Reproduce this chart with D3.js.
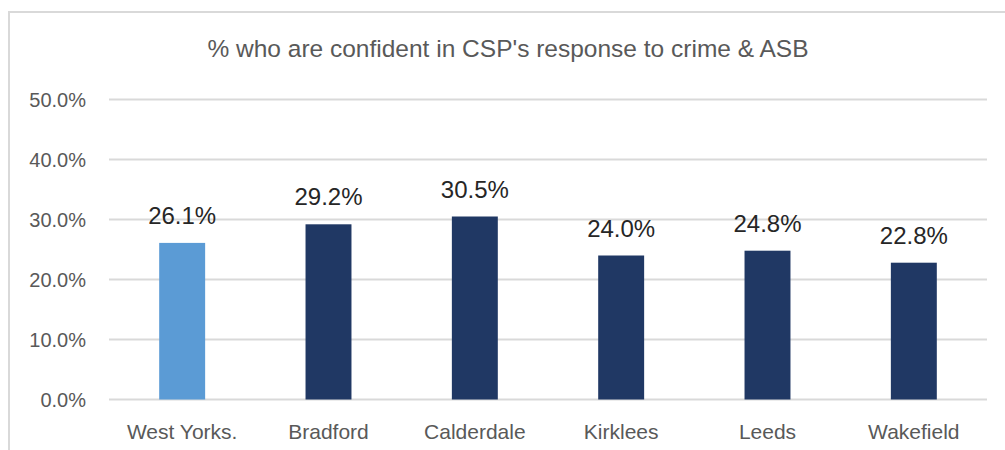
<!DOCTYPE html>
<html>
<head>
<meta charset="utf-8">
<script src="https://cdn.jsdelivr.net/npm/d3@7"></script>
<style>
    body { margin: 0; background: #fff; }
    text { font-family: 'Liberation Sans', Arial, sans-serif; }
</style>
</head>
<body>
<div id="graf"></div>
<script>
// Datos
const titulo = "% who are confident in CSP's response to crime & ASB"
const categorias = ['West Yorks.', 'Bradford', 'Calderdale', 'Kirklees', 'Leeds', 'Wakefield']
const valores = [0.261, 0.292, 0.305, 0.240, 0.248, 0.228]
const marcasY = [0, 0.1, 0.2, 0.3, 0.4, 0.5]

function load() {
    // Configuración de tamaños.
    const ancho = 1005
    const alto = 450
    const izq = 109
    const der = 987
    const arriba = 99.5
    const abajo = 399.5

    const svg = d3.select('#graf')
        .append('svg')
        .attr('width', ancho)
        .attr('height', alto)

    // Marco del gráfico
    svg.append('rect')
        .attr('x', 9)
        .attr('y', 12)
        .attr('width', 1020)
        .attr('height', 460)
        .attr('fill', 'none')
        .attr('stroke', '#d9d9d9')
        .attr('stroke-width', 2)

    // Título
    svg.append('text')
        .attr('x', 508)
        .attr('y', 57)
        .attr('text-anchor', 'middle')
        .attr('font-size', 24.5)
        .attr('fill', '#595959')
        .text(titulo)

    // Escalas
    const xScale = d3.scaleBand()
        .domain(categorias)
        .range([izq, der])
        .paddingInner(0.686)
        .paddingOuter(0.343)

    const yScale = d3.scaleLinear()
        .domain([0, 0.5])
        .range([abajo, arriba])

    // Líneas de la cuadrícula
    svg.append('g')
        .selectAll('line')
        .data(marcasY)
        .enter()
        .append('line')
        .attr('x1', izq)
        .attr('x2', der)
        .attr('y1', d => yScale(d))
        .attr('y2', d => yScale(d))
        .attr('stroke', '#d9d9d9')
        .attr('stroke-width', 2)

    // Eje Y
    const yAxis = d3.axisLeft(yScale)
        .tickValues(marcasY)
        .tickFormat(d3.format('.1%'))
        .tickSize(0)
        .tickPadding(0)

    svg.append('g')
        .attr('id', 'y-axis')
        .attr('transform', 'translate(86, 0)')
        .call(yAxis)
        .call(g => g.select('.domain').remove())
        .call(g => g.selectAll('text')
            .attr('font-size', 20)
            .attr('font-family', null)
            .attr('fill', '#595959')
            .attr('dy', '0.35em'))

    // Eje X
    const xAxis = d3.axisBottom(xScale)
        .tickSize(0)
        .tickPadding(0)

    svg.append('g')
        .attr('id', 'x-axis')
        .attr('transform', `translate(0, ${abajo})`)
        .call(xAxis)
        .call(g => g.select('.domain').remove())
        .call(g => g.selectAll('text')
            .attr('font-size', 21)
            .attr('font-family', null)
            .attr('fill', '#595959')
            .attr('dy', null)
            .attr('y', 39))

    // Barras
    svg.append('g')
        .selectAll('rect')
        .data(valores)
        .enter()
        .append('rect')
        .attr('x', (d, i) => xScale(categorias[i]))
        .attr('y', d => yScale(d))
        .attr('width', xScale.bandwidth())
        .attr('height', d => abajo - yScale(d))
        .attr('fill', (d, i) => i === 0 ? '#5b9bd5' : '#203864')

    // Etiquetas de datos
    svg.append('g')
        .selectAll('text')
        .data(valores)
        .enter()
        .append('text')
        .attr('x', (d, i) => xScale(categorias[i]) + xScale.bandwidth() / 2)
        .attr('y', d => yScale(d) - 19)
        .attr('text-anchor', 'middle')
        .attr('font-size', 24)
        .attr('fill', '#262626')
        .text(d => d3.format('.1%')(d))
}

// Se carga la gráfica
load()
</script>
</body>
</html>
